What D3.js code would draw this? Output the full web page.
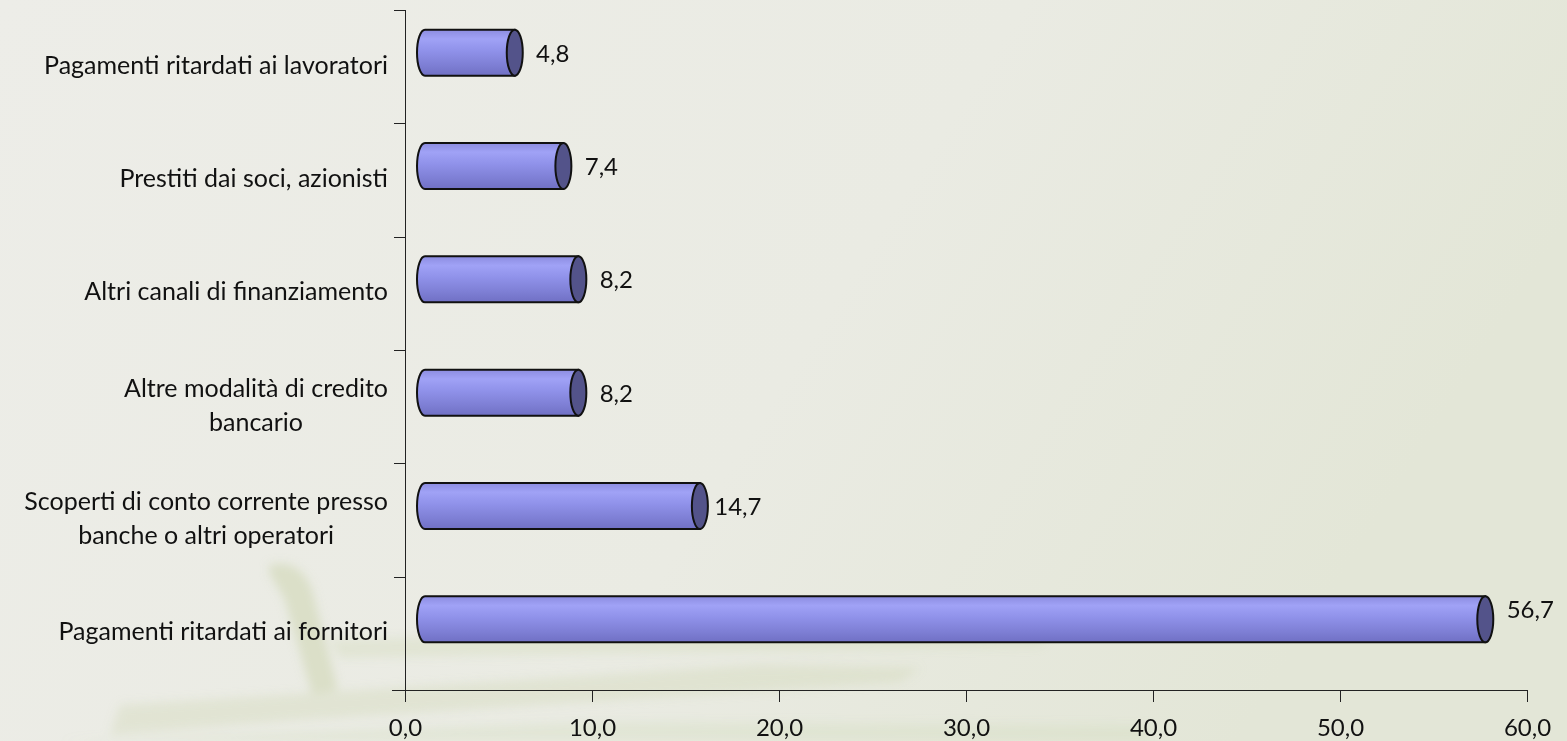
<!DOCTYPE html>
<html>
<head>
<meta charset="utf-8">
<script src="https://cdn.jsdelivr.net/npm/d3@7"></script>
<style>
  html, body { margin: 0; padding: 0; }
  body { width: 1567px; height: 741px; overflow: hidden; }
  svg text { font-family: Lato, "Open Sans", sans-serif; fill: #111; }
</style>
</head>
<body>
<svg id="chart" width="1567" height="741"></svg>
<script>
// Categories, top to bottom
const categories = [
  "Pagamenti ritardati ai lavoratori",
  "Prestiti dai soci, azionisti",
  "Altri canali di finanziamento",
  "Altre modalità di credito\nbancario",
  "Scoperti di conto corrente presso\nbanche o altri operatori",
  "Pagamenti ritardati ai fornitori"
];
const values = [4.8, 7.4, 8.2, 8.2, 14.7, 56.7];
const xTicks = [0, 10, 20, 30, 40, 50, 60];

const svg = d3.select("#chart");
const W = 1567, H = 741;
const fmt = v => d3.format(".1f")(v).replace(".", ",");

// Background: soft paper gradient with a faint greenish tint
const defs = svg.append("defs");
const bg = defs.append("linearGradient").attr("id", "bg")
  .attr("x1", "0").attr("y1", "0").attr("x2", "1").attr("y2", "0.3");
bg.append("stop").attr("offset", "0").attr("stop-color", "#ededE8");
bg.append("stop").attr("offset", "0.6").attr("stop-color", "#eaebe3");
bg.append("stop").attr("offset", "1").attr("stop-color", "#e3e6d7");
svg.append("rect").attr("width", W).attr("height", H).attr("fill", "url(#bg)");

// Faint decorative shapes in the lower-left corner
const blur = defs.append("filter").attr("id", "soft").attr("x", "-20%").attr("y", "-20%")
  .attr("width", "140%").attr("height", "140%");
blur.append("feGaussianBlur").attr("stdDeviation", 5);
const deco = svg.append("g").attr("filter", "url(#soft)").attr("fill", "#cdd6b0");
deco.append("path").attr("d", "M270,565 C290,560 305,570 312,590 L338,690 L312,694 L285,600 C278,585 265,572 270,565 Z")
  .attr("opacity", 0.55);
deco.append("path").attr("d", "M120,705 L760,665 L920,668 L900,682 L300,720 L110,735 Z").attr("opacity", 0.33);
deco.append("path").attr("d", "M330,640 L700,630 L1050,634 L1040,646 L340,658 Z").attr("opacity", 0.3);
deco.append("path").attr("d", "M60,741 L600,722 L1150,726 L1150,741 Z").attr("opacity", 0.25);

// Cylinder shading
const body = defs.append("linearGradient").attr("id", "cyl")
  .attr("x1", "0").attr("y1", "0").attr("x2", "0").attr("y2", "1");
[["0", "#8c8ce0"], ["0.2", "#a0a2f6"], ["0.45", "#9092ea"], ["0.75", "#7f80d6"], ["1", "#7070c4"]]
  .forEach(([o, c]) => body.append("stop").attr("offset", o).attr("stop-color", c));

const x0 = 405, x1 = 1527;
const yTop = 10, yBot = 690;

const x = d3.scaleLinear().domain([0, 60]).range([x0, x1]);
const y = d3.scaleBand().domain(categories).range([yTop, yBot]);

// 3D depth offset of the cylinders relative to the floor
const depthX = 20, depthY = -14;
const barH = 46, rx = 8;

// Axes
const xAxis = d3.axisBottom(x).tickValues(xTicks).tickFormat(fmt)
  .tickSize(12).tickSizeOuter(0);
const gx = svg.append("g").attr("transform", `translate(0,${yBot})`).call(xAxis);
gx.select(".domain").attr("d", `M${x0 - 13},0.5H${x1}`);
gx.selectAll("line").attr("stroke", "#222");
gx.selectAll("path").attr("stroke", "#222");
gx.selectAll("text").attr("y", 46).attr("dy", 0).style("font-size", "24px")
  .style("font-family", "Lato, 'Open Sans', sans-serif").attr("fill", "#111");

const gy = svg.append("g").attr("transform", `translate(${x0},0)`);
gy.append("line").attr("x1", 0.5).attr("x2", 0.5).attr("y1", yTop).attr("y2", yBot + 12).attr("stroke", "#222");
const yTickPos = d3.range(categories.length + 1).map(i => yTop + i * y.step());
gy.selectAll("line.t").data(yTickPos).join("line").attr("class", "t")
  .attr("x1", -11).attr("x2", 0).attr("y1", d => Math.round(d) + 0.5).attr("y2", d => Math.round(d) + 0.5)
  .attr("stroke", "#222");

// Category labels (may wrap onto two lines, centred as a block)
const labels = svg.append("g");
const labelRight = 388, lineGap = 34;
categories.forEach(c => {
  const lines = c.split("\n");
  const cy = y(c) + y.bandwidth() / 2;
  const t = labels.append("text").style("font-size", "25px");
  if (lines.length === 1) {
    t.attr("text-anchor", "end").attr("x", labelRight).attr("y", cy + 7).text(c);
  } else {
    t.attr("text-anchor", "middle");
    const spans = lines.map((ln, i) => t.append("tspan")
      .attr("y", cy + 7 + (i - (lines.length - 1) / 2) * lineGap).text(ln));
    const wMax = d3.max(spans, s => s.node().getComputedTextLength());
    spans.forEach(s => s.attr("x", labelRight - wMax / 2));
  }
});

// Cylinders
const bars = svg.append("g");
values.forEach((v, i) => {
  const c = categories[i];
  const cy = y(c) + y.bandwidth() / 2 + depthY;
  const top = cy - barH / 2, bot = cy + barH / 2;
  const xl = x(0) + depthX, xr = x(v) + depthX;
  const g = bars.append("g");
  g.append("path")
    .attr("d", `M${xr},${top} L${xl},${top} A${rx},${barH / 2} 0 0 0 ${xl},${bot} L${xr},${bot} Z`)
    .attr("fill", "url(#cyl)").attr("stroke", "#111").attr("stroke-width", 2);
  g.append("ellipse").attr("cx", xr).attr("cy", cy).attr("rx", rx).attr("ry", barH / 2)
    .attr("fill", "#53538a").attr("stroke", "#111").attr("stroke-width", 2);

  // value label
  const isMax = v === d3.max(values);
  svg.append("text").attr("text-anchor", "middle")
    .attr("x", xr + (isMax ? 45 : 38))
    .attr("y", cy + (isMax ? -1 : 9))
    .style("font-size", "24px")
    .text(fmt(v));
});
</script>
</body>
</html>
